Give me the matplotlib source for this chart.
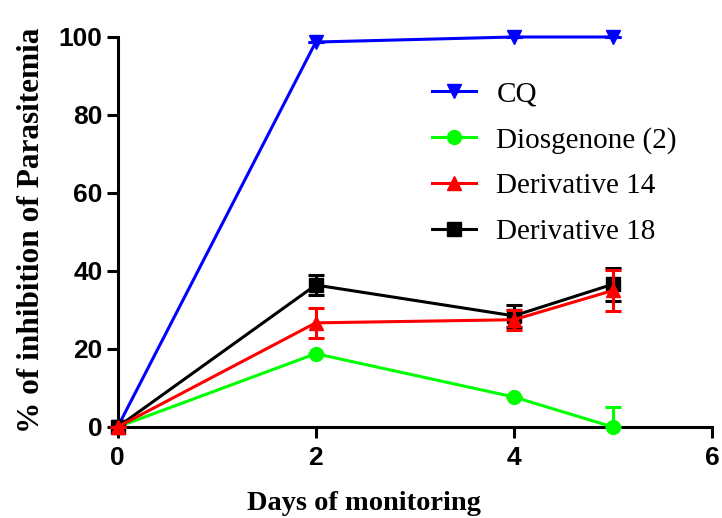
import numpy as np
import matplotlib.pyplot as plt

days = [0, 2, 4, 5]

cq = [0, 98.7, 100, 100]
cq_err = [0, 0, 0, 0]

dios = [0, 18.8, 7.7, 0]
dios_err_lo = [0, 0, 0, 0]
dios_err_hi = [0, 0, 0, 5.1]

d14 = [0, 26.7, 27.5, 35.0]
d14_err = [0, 3.9, 2.6, 5.3]

d18 = [0, 36.4, 28.5, 36.6]
d18_err = [0, 2.6, 2.9, 4.2]

fig = plt.figure(figsize=(7.22, 5.18), dpi=100)
ax = fig.add_axes([0.163, 0.1757, 0.823, 0.7529])

lw = 2.2
common = dict(linewidth=lw, markersize=10, capsize=6, capthick=lw,
              elinewidth=lw, clip_on=False)

series = [
    ("CQ", cq, [cq_err, cq_err], "#0000ff", "v", 3),
    ("Diosgenone (2)", dios, [dios_err_lo, dios_err_hi], "#00ff00", "o", 3),
    ("Derivative 14", d14, [d14_err, d14_err], "#ff0000", "^", 5),
    ("Derivative 18", d18, [d18_err, d18_err], "#000000", "s", 4),
]
handles = []
for name, vals, err, color, marker, z in series:
    cont = ax.errorbar(days, vals, yerr=err, color=color, marker=marker,
                       label=name, zorder=z, **common)
    for art in list(cont.lines[1]) + list(cont.lines[2]):
        art.set_clip_on(False)
    handles.append(cont)

ax.set_xlim(0, 6)
ax.set_ylim(0, 100)
ax.set_xticks([0, 2, 4, 6])
ax.set_yticks([0, 20, 40, 60, 80, 100])

for s in ["top", "right"]:
    ax.spines[s].set_visible(False)
for s in ["left", "bottom"]:
    ax.spines[s].set_linewidth(lw)
ax.tick_params(width=lw, length=8, direction="out")
ax.tick_params(axis="x", pad=6)
ax.tick_params(axis="y", pad=3)

tick_font = dict(family="Liberation Sans", weight="bold", size=19)
for lab in ax.get_xticklabels() + ax.get_yticklabels():
    lab.set_fontproperties(tick_font)

ax.set_xlabel("Days of monitoring", family="Liberation Serif",
              weight="bold", size=20.5)
ax.xaxis.set_label_coords(0.414, -0.164)
ax.set_ylabel("% of inhibition of Parasitemia", family="Liberation Serif",
              weight="bold", size=22.5)
ax.yaxis.set_label_coords(-0.12, 0.505)

leg = ax.legend(handles=[h[0] for h in handles],
                labels=[s[0] for s in series],
                loc="center", bbox_to_anchor=(0.735, 0.677),
                frameon=False, handlelength=1.5, handletextpad=0.7,
                labelspacing=0.66,
                prop=dict(family="Liberation Serif", size=21))

fig.savefig("out.png", dpi=100)
